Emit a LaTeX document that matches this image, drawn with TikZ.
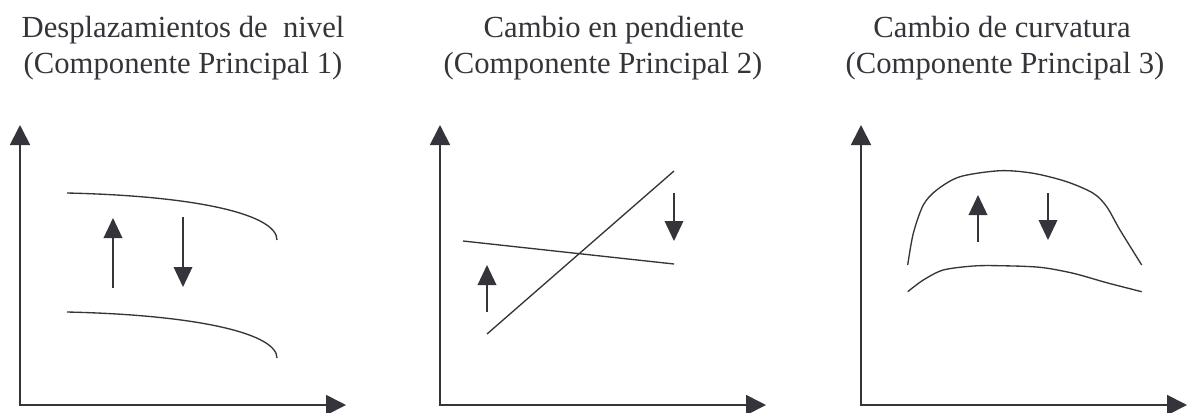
\documentclass[tikz,border=0pt]{standalone}
\usepackage{fontspec}
\setmainfont{Liberation Serif}
\usetikzlibrary{arrows.meta,positioning}
\definecolor{ink}{RGB}{52,52,58}

\begin{document}
\begin{tikzpicture}[x=0.75pt,y=-0.75pt,line width=1pt,color=ink,
    axis/.style={line width=1.3pt,{Triangle[length=15pt,width=15pt]}-{Triangle[length=15pt,width=15pt]}},
    move/.style={line width=1.1pt,-{Triangle[length=15pt,width=14pt]}},
    title/.style={font=\fontsize{23}{27}\selectfont,anchor=base,inner sep=0pt}]
            \useasboundingbox (0,0) rectangle (1188,412);
            % titulos de los tres componentes
            \node[title] (t1a) at (183,37) {Desplazamientos de~ nivel};
            \node[title] (t1b) at (183,73) {(Componente Principal 1)};
            \node[title] (t2a) at (614,37) {Cambio en pendiente};
            \node[title] (t2b) at (603,73) {(Componente Principal 2)};
            \node[title] (t3a) at (1002,37) {Cambio de curvatura};
            \node[title] (t3b) at (1005,73) {(Componente Principal 3)};
            % ejes
            \foreach \ox in {20,440,861} {
                \draw[axis] (\ox,125) |- (\ox+326,405);
            }
            % nivel
            \draw (67,193) .. controls (200,196) and (277,215) .. (277,240);
            \draw (67,312) .. controls (200,315) and (277,334) .. (277,358);
            \draw[move] (113,288) -- (113,218);
            \draw[move] (183,217) -- (183,287);
            % pendiente
            \draw (487,334) -- (674,171);
            \draw (463,241) -- (674,264);
            \draw[move] (487,312) -- (487,265);
            \draw[move] (674,193) -- (674,241);
            % curvatura
            \draw plot[smooth] coordinates {(907.7,265) (913.3,233.3) (923.3,205) (936.7,190) (960,176.7) (1000,170.7) (1033.3,173.3) (1066.7,181.7) (1093.3,193.3) (1106.7,206.7) (1120,230) (1141.7,265)};
            \draw plot[smooth] coordinates {(907.7,291.7) (923.3,280) (943.3,270) (973.3,266) (1000,265.7) (1040,267.3) (1073.3,273.3) (1106.7,282.7) (1141.7,291.7)};
            \draw[move] (978,242) -- (978,195);
            \draw[move] (1048,193) -- (1048,240);
        \end{tikzpicture}
\end{document}
